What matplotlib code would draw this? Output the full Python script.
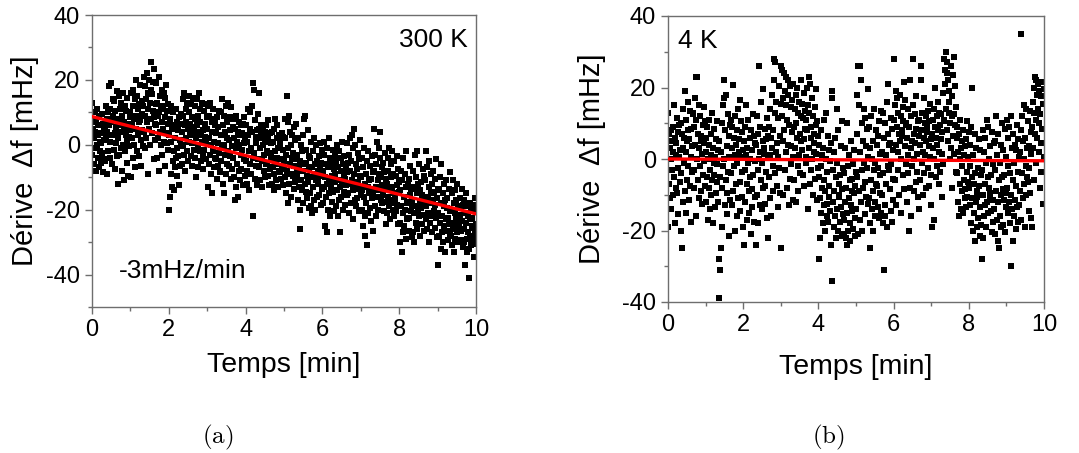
import numpy as np
import matplotlib
matplotlib.use("Agg")
import matplotlib.pyplot as plt
from matplotlib.ticker import MultipleLocator

plt.rcParams['font.family'] = ['Liberation Sans', 'DejaVu Sans']
plt.rcParams['mathtext.fontset'] = 'cm'
plt.rcParams['axes.unicode_minus'] = False

# drift at 300 K (mHz), one row = 20 s
drift_300k = [
    13, -3, 5, 8, -6, 2, 10, -1, 4, -8, 7, 0, 11, -4, 3, 6, -7, 9, 1, -2, -5.5, 3.5, 0.5, 9.5, -2.5, 6.5, -8.5, 4.5, 1.5, -4.5,
    5, -5, 12, 2, 8, -9, 4, 10, -2, 6, 18, 1, 11, -4, 7, 19, 3, -6, 9, 14, 7.5, -1.5, 13.5, 3.5, -7.5, 10.5, 0.5, 5.5, 16.5, -3.5,
    8, -12, 2, 15, -3, 6, 11, -1, 13, 4, -8, 9, 0, 16, 5, -11, 7, 12, -2, 3, 10.5, -5.5, 1.5, 14.5, -9.5, 6.5, 2.5, -0.5, 8.5, 4.5,
    10, -10, 16, 6, 2, 12, -4, 17, 8, 0, 14, -7, 20, 5, 9, -2, 15, 11, 3, 7, 12.5, -3.5, 7.5, 18.5, 1.5, -6.5, 9.5, 4.5, 13.5, -0.5,
    12, 21, 4, -1, 18, 9, 14, 2, 22, 7, -9, 16, 11, 5, 20, 13, 0, 25.6, 8, 17, 15.5, 3.5, 10.5, 19.5, -4.5, 8.5, 23.5, 6.5, 1.5, 12.5,
    19, 6, -4, 13, 9, 2, 21, 10, -8, 15, 4, 11, 0, 17, 7, -3, 12, 5, 16, 1, 8.5, -6.5, 14.5, 3.5, 18.5, 0.5, 10.5, -1.5, 6.5, 12.5,
    -20, 3, -16, 8, -9, 12, 1, -13, 5, -5, 10, -2, -14, 6, -7, 2, 11, -4, 7, -1, -9.5, 4.5, -3.5, 8.5, -12.5, 1.5, -6.5, 6.5, -0.5, 9.5,
    4, -6, 9, 14, 0, -3, 16, 6, -8, 11, 2, 7, -2, 13, 5, -5, 10, 1, 15, 3, 6.5, -3.5, 12.5, 0.5, 8.5, -6.5, 3.5, 14.5, -1.5, 5.5,
    8, -4, 12, 2, -10, 6, 14, 0, -7, 9, 4, 16, -2, 7, 11, -5, 3, 1, 13, -3, 4.5, -7.5, 10.5, -1.5, 6.5, 2.5, -4.5, 12.5, 0.5, 8.5,
    5, -13, 12, -6, 2, 9, -3, 13, -9, 0, 7, -15, 4, -2, 11, -7, 1, 6, -4, 8, -4.5, 3.5, -10.5, 8.5, 0.5, -6.5, 5.5, -2.5, 10.5, -8.5,
    -8, 3, 10, -5, 14, -1, -12, 6, 0, 9, -15, 4, -3, 12, -9, 2, 7, -6, 13, -2, 1.5, -6.5, 8.5, -3.5, 4.5, -10.5, 11.5, -0.5, -7.5, 5.5,
    -4, 8, -10, 2, -17, 5, -1, -13, 9, -6, 1, -16, 4, -8, 7, 0, -11, 3, -3, 6, -7.5, 3.5, -1.5, 6.5, -12.5, 0.5, -4.5, 8.5, -9.5, 2.5,
    -5, 6, -12, 1, -8, 3, 11, -2, -14, 5, -6, 10, -1, -9, 4, 12, -4, 19, -22, 17, -2.5, 7.5, -10.5, 2.5, -6.5, 0.5, -12.5, 4.5, -4.5, 9.5,
    5, -7, 16, -1, -11, 3, 6, -5, 2, -13, 0, 5, -8, -3, 4, -10, 1, -6, 6, -2, -5.5, 2.5, -9.5, 7.5, -2.5, -12.5, 3.5, -7.5, 0.5, -4.5,
    -3, -12, 4, -7, 1, -14, 5, -9, -2, 8, -6, -11, 2, -4, 6, -13, -1, 3, -8, 0, -8.5, 0.5, -4.5, -10.5, 3.5, -6.5, -1.5, -12.5, 2.5, -7.5,
    -5, 8, -10, 2, -15, -3, 15, -8, 7, -18, -1, 9, -12, 4, -6, -16, 0, -9, 3, -4, -9.5, -2.5, 5.5, -13.5, -6.5, 1.5, -11.5, -4.5, 6.5, -8.5,
    -10, -3, -17, 2, -7, -13, -26, -5, -20, 0, -11, -14, -2, -8, -18, 3, -6, 8, -12, 9, -5.5, -14.5, -1.5, -9.5, -16.5, 4.5, -11.5, -3.5, -7.5, -19.5,
    -15, -4, -19, 1, -10, -7, -21, -2, -13, -17, 2, -9, -6, -20, -11, 0, -16, -5, -12, -8, -11.5, -3.5, -15.5, -7.5, 0.5, -18.5, -9.5, -5.5, -13.5, -1.5,
    -8, -18, -3, -13, 1, -25, -10, -6, -16, -27, -1, -12, -20, -7, -15, 2, -11, -22, -4, -14, -12.5, -5.5, -17.5, -9.5, -1.5, -14.5, -20.5, -7.5, -3.5, -11.5,
    -9, -19, -5, -14, 0, -22, -11, -7, -17, -2, -13, -27, -8, -4, -16, 1, -12, -20, -6, -10, -14.5, -3.5, -10.5, -18.5, -6.5, -12.5, 0.5, -8.5, -15.5, -5.5,
    -15, -3, -21, -8, 2, -12, -18, -5, 3, -11, -23, -1, -14, 5, -9, -17, 0, -6, -13, -19, -7.5, -16.5, -11.5, -2.5, -13.5, -20.5, -4.5, -9.5, 1.5, -15.5,
    -10, -20, -4, -14, -25, -7, -16, -1, -22, -12, -28, -9, -18, -31, -5, -13, -21, -2, -15, -11, -13.5, -6.5, -19.5, -10.5, -23.5, -3.5, -16.5, -8.5, -14.5, -26.5,
    5, -8, -19, -3, -13, -22, -6, -16, 1, -11, -20, -9, -1, -14, -4, 4, -17, -10, -7, -18, -12.5, -5.5, -15.5, -20.5, -8.5, -2.5, -13.5, -17.5, -10.5, -24.5,
    -12, -21, -4, -16, -8, -19, -1, -14, -23, -10, -6, -17, -2, -13, -20, -9, -15, -22, -5, -18, -16.5, -9.5, -20.5, -12.5, -3.5, -18.5, -24.5, -7.5, -14.5, -11.5,
    -24, -14, -30, -8, -19, -33, -11, -21, -27, -4, -16, -25, -9, -20, -29, -13, -2, -18, -23, -12, -17.5, -22.5, -10.5, -26.5, -15.5, -6.5, -20.5, -13.5, -28.5, -18.5,
    -17, -27, -8, -21, -13, -30, -3, -19, -24, -10, -15, -26, -2, -20, -12, -22, -6, -18, -28, -14, -19.5, -11.5, -24.5, -15.5, -7.5, -21.5, -16.5, -26.5, -9.5, -17.5,
    -11, -23, -2, -19, -26, -7, -16, -21, -13, -30, -5, -18, -24, -9, -15, -22, -12, -27, -17, -8, -20.5, -14.5, -25.5, -10.5, -18.5, -4.5, -22.5, -16.5, -28.5, -13.5,
    -37, -21, -14, -28, -10, -24, -18, -32, -6, -22, -27, -15, -30, -12, -25, -19, -33, -17, -23, -11, -19.5, -26.5, -16.5, -22.5, -29.5, -13.5, -24.5, -8.5, -20.5, -27.5,
    -20, -28, -15, -31, -24, -11, -26, -18, -33, -21, -14, -29, -23, -17, -27, -12, -30, -19, -25, -22, -24.5, -16.5, -21.5, -29.5, -19.5, -26.5, -13.5, -23.5, -31.5, -18.5,
    -26, -17, -30, -21, -37, -24, -15, -29, -33, -19, -27, -22, -32, -41, -18, -28, -23, -31, -20, -25, -22.5, -29.5, -18.5, -25.5, -34.5, -20.5, -27.5, -16.5, -24.5, -30.5,
]

# drift at 4 K (mHz)
drift_4k = [
    -19, 13, 7, -7, 3, -11, 8, 0, -14, 5, -3, 9, -10, 2, 15, -5, 6, -18, 1, -8, 4.5, -9.5, 11.5, -2.5, 7.5, -15.5, 0.5, 9.5, -6.5, 2.5,
    -20, 10, -4, 7, -25, 3, -12, 14, -1, 6, -9, 19, 2, -15, 11, 5, -6, 16, -2, 8, -11.5, 5.5, 13.5, -7.5, 0.5, 8.5, -17.5, 3.5, -3.5, 12.5,
    13, -3, 9, -8, 17, 4, -16, 11, 23, 0, 23, -6, 7, 15, -11, 3, 12, -2, 5, -9, 6.5, -12.5, 1.5, 9.5, -4.5, 14.5, -0.5, 4.5, -7.5, 10.5,
    6, -12, 2, -5, 9, -17, 0, -8, 4, 11, -14, -3, 7, -10, 1, -6, 13, -18, 3, -1, -4.5, 8.5, -13.5, 0.5, 5.5, -9.5, -1.5, 10.5, -6.5, 2.5,
    -12, 5, -39, -28, -31, -5, -25, 2, -19, 10, -8, 15, -2, 22, 0, 17, -13, 8, 18, -6, -9.5, 3.5, -15.5, 12.5, -3.5, 6.5, -21.5, 0.5, 9.5, -11.5,
    -4, 11, -13, 3, 9, -9, 20.6, -2, 6, -20, 1, 12, -7, 4, -16, 8, -1, 14, -11, 2, 5.5, -6.5, 16.5, -14.5, 0.5, 10.5, -3.5, 7.5, -10.5, 2.5,
    -19, 5, -24, -3, 9, -12, 1, 15, -7, -17, 3, -1, 11, -9, -15, 6, -5, 0, -21, 8, -8.5, 2.5, -13.5, 12.5, -4.5, 6.5, -17.5, -0.5, 4.5, -10.5,
    -24, 4, -10, 12, -3, -18, 7, 0, 26, -13, 9, 2, -6, 16, -1, -14, 5, 19.5, -8, 3, 1.5, -7.5, 8.5, -12.5, 5.5, -3.5, 11.5, -16.5, 0.5, 6.5,
    -22, 9, -5, 14, -11, 1, 6, -16, 3, 18, -2, 8, -9, 22, 28, 27, 13, -4, 16, 2, -7.5, 4.5, 11.5, -13.5, 0.5, 20.5, -2.5, 6.5, -9.5, 15.5,
    -25, 26, 12, 25, 5, -10, 17, 24, 8, -3, 19, 15, 23, 2, 11, -8, 18, 4, 22, -13, 9.5, -5.5, 20.5, 3.5, 14.5, -1.5, 7.5, 16.5, -11.5, 0.5,
    21, 9, -6, 14, 3, 18, -12, 10, 6, 20, -2, 13, -9, 16, 1, 7, -4, 12, 22, 5, 15.5, 2.5, -4.5, 11.5, 18.5, 5.5, -7.5, 8.5, 13.5, 0.5,
    11, -1, 20, 8, -14, 15, 23, 3, 13, -7, 21, 6, 9, -3, 17, 0, 12, -10, 7, 2, 4.5, 14.5, -5.5, 9.5, 19.5, 1.5, -11.5, 10.5, 6.5, -2.5,
    -28, -5, 4, -11, -22, -2, 8, -15, 1, -8, -18, 3, -13, -6, 11, -20, -9, 0, 13, -16, -3.5, -12.5, 6.5, -17.5, -7.5, 2.5, -10.5, -0.5, -14.5, 4.5,
    -24, 17, -34, 19, -12, -3, -19, 2, -9, -16, 6, -22, -5, 14, -14, -1, -20, 8, -10, -7, -10.5, -4.5, -17.5, 3.5, -13.5, -8.5, 10.5, -21.5, -2.5, -15.5,
    -17, -4, -21, 3, -12, -22, -8, 10, -24, -15, -2, -20, -11, 1, -23, -6, -18, 5, -13, -9, -5.5, -14.5, -1.5, -19.5, -9.5, 2.5, -16.5, -7.5, -21.5, -3.5,
    -14, 7, -5, 18, 26, -21, -9, 15, 2, -17, 26, -12, 22, -3, 10, -20, 5, -8, 14, -1, -6.5, 11.5, -15.5, 3.5, -10.5, 8.5, -2.5, 19.5, -12.5, 0.5,
    -11, 9, -18, 3, -25, -6, 12, -14, 0, -9, 5, -20, -3, 14, -16, -1, -12, 8, -7, 4, -7.5, 6.5, -13.5, -2.5, 10.5, -16.5, 1.5, -9.5, -4.5, 13.5,
    -15, 2, -10, 13, -18, -4, 6, -31, -13, -16, 10, -7, 1, -19, 16, -2, 21, 7, 4, -3, -8.5, 4.5, -14.5, 11.5, -1.5, -17.5, 8.5, -5.5, 2.5, -11.5,
    28, 11, -6, 15, 19, 4, -13, 9, 17, 2, -3, 13, 7, -10, 18, 5, 0, 12, -15, 8, 6.5, -4.5, 14.5, 10.5, -8.5, 21.5, 3.5, 16.5, -1.5, 9.5,
    10, -12, 6, 14, -4, 1, -20, 9, 22, -8, 3, -16, 12, 5, -2, 15, 28, -9, 7, 0, 4.5, 12.5, -6.5, 8.5, 17.5, -3.5, 1.5, 10.5, -10.5, 6.5,
    -14, 11, 4, -6, 22, 26, 8, -1, 13, -10, 2, 17, 6, -4, 10, 1, 12, -8, 5, 9, 7.5, -2.5, 13.5, 3.5, -7.5, 10.5, 0.5, 15.5, -4.5, 5.5,
    -13, 7, -19, 11, 3, -17, 14, 0, 9, 20, -5, 6, 12, -2, 4, 16, 8, -7, 13, 2, 9.5, -3.5, 5.5, 12.5, -10.5, 1.5, 7.5, 18.5, -1.5, 10.5,
    28, 11, 25, 21, 30, 14, 8, 27, 24, 5, 22, 19, 16, 13, 0, 10, 26, 3, -8, 12, 17.5, 6.5, 23.5, 1.5, 12.5, 28.5, 9.5, 20.5, -3.5, 14.5,
    6, -4, 9, -12, 2, -16, 7, -7, 0, 11, -14, 3, -9, 5, -2, -15, 8, -6, 1, -11, -8.5, 3.5, -13.5, 5.5, -3.5, 10.5, -10.5, 0.5, -6.5, 7.5,
    -8, 4, -13, -2, 9, -18, -5, 20, -11, -20, 1, -7, -15, 7, -23, -4, -12, 3, -19, -9, -10.5, -2.5, -16.5, 5.5, -7.5, -21.5, 2.5, -13.5, -4.5, -18.5,
    -28, -3, -22, 8, -10, -16, 2, -7, -13, 6, -19, -1, 11, -12, -5, 9, -15, -8, 0, -11, -9.5, 3.5, -14.5, -4.5, -20.5, 7.5, -11.5, -1.5, -17.5, 4.5,
    -14, 5, -21, -3, 12, -9, -17, 1, -12, -23, 7, -6, -25, -1, -16, 4, -10, -19, 10, -5, -8.5, -18.5, 2.5, -11.5, -4.5, 8.5, -20.5, -13.5, 0.5, -9.5,
    -8, 11, -15, -2, 6, -12, 9, -18, -4, 12, -10, -30, 3, -14, -6, 7, -23, -1, -16, 4, -11.5, 2.5, -19.5, -7.5, 9.5, -13.5, -3.5, 5.5, -17.5, 0.5,
    -13, 2, -9, 8, -17, 35, -4, 12, -11, 5, 15, -7, 0, -19, 6, -2, 14, -10, 3, -5, -6.5, 10.5, -14.5, 3.5, -2.5, 13.5, -9.5, 7.5, -16.5, 1.5,
    -19, 9, 3, 16, -6, 13, 20, 7, 23, 11, -1, 22, 18, 6, 21, 14, 2, 19, 10, -8, 12.5, 4.5, 17.5, -3.5, 21.5, 8.5, -12.5, 15.5, 0.5, 19.5,
]

# linear fits (intercept mHz, slope mHz/min)
fit_300k = (8.7, -3.0)
fit_4k = (0.0, -0.05)

t_300k = np.linspace(0, 10, len(drift_300k))
t_4k = np.linspace(0, 10, len(drift_4k))

W, H = 1079, 453
fig = plt.figure(figsize=(W / 100, H / 100), dpi=100)

ax1 = fig.add_axes([92 / W, 1 - 307 / H, 384 / W, 292 / H])
ax2 = fig.add_axes([668 / W, 1 - 302 / H, 376 / W, 286 / H])

frame = '#6e6e6e'


def style(ax, ylim, xpad, ypad):
    ax.set_xlim(0, 10)
    ax.set_ylim(*ylim)
    ax.xaxis.set_major_locator(MultipleLocator(2))
    ax.xaxis.set_minor_locator(MultipleLocator(1))
    ax.yaxis.set_major_locator(MultipleLocator(20))
    ax.yaxis.set_minor_locator(MultipleLocator(10))
    ax.tick_params(which='both', direction='out', top=False, right=False,
                   labelsize=17, color=frame, width=1)
    ax.tick_params(which='major', length=5)
    ax.tick_params(which='minor', length=3)
    for s in ax.spines.values():
        s.set_color(frame)
        s.set_linewidth(1)
    ax.set_xlabel('Temps [min]', fontsize=20.5, labelpad=xpad)
    ax.set_ylabel('Dérive  Δf [mHz]', fontsize=21, labelpad=ypad)


for ax, t, y, fit in [(ax1, t_300k, drift_300k, fit_300k),
                      (ax2, t_4k, drift_4k, fit_4k)]:
    ax.plot(t, y, 's', color='black', ms=4.5, mew=0, zorder=2)
    xx = np.array([0, 10])
    ax.plot(xx, fit[0] + fit[1] * xx, color='#ff0000', lw=2.4, zorder=3)

style(ax1, (-50, 40), 8, 5)
style(ax2, (-40, 40), 13, 12)

ax1.text(0.978, 0.955, '300 K', transform=ax1.transAxes, ha='right', va='top', fontsize=19)
ax1.text(0.07, 0.125, '-3mHz/min', transform=ax1.transAxes, ha='left', va='center', fontsize=19)
ax2.text(0.027, 0.955, '4 K', transform=ax2.transAxes, ha='left', va='top', fontsize=19)

fig.text(218 / W, 1 - 437 / H, r'$\mathrm{(a)}$', ha='center', va='center', fontsize=18)
fig.text(828 / W, 1 - 437 / H, r'$\mathrm{(b)}$', ha='center', va='center', fontsize=18)

fig.savefig('out.png', dpi=100)
